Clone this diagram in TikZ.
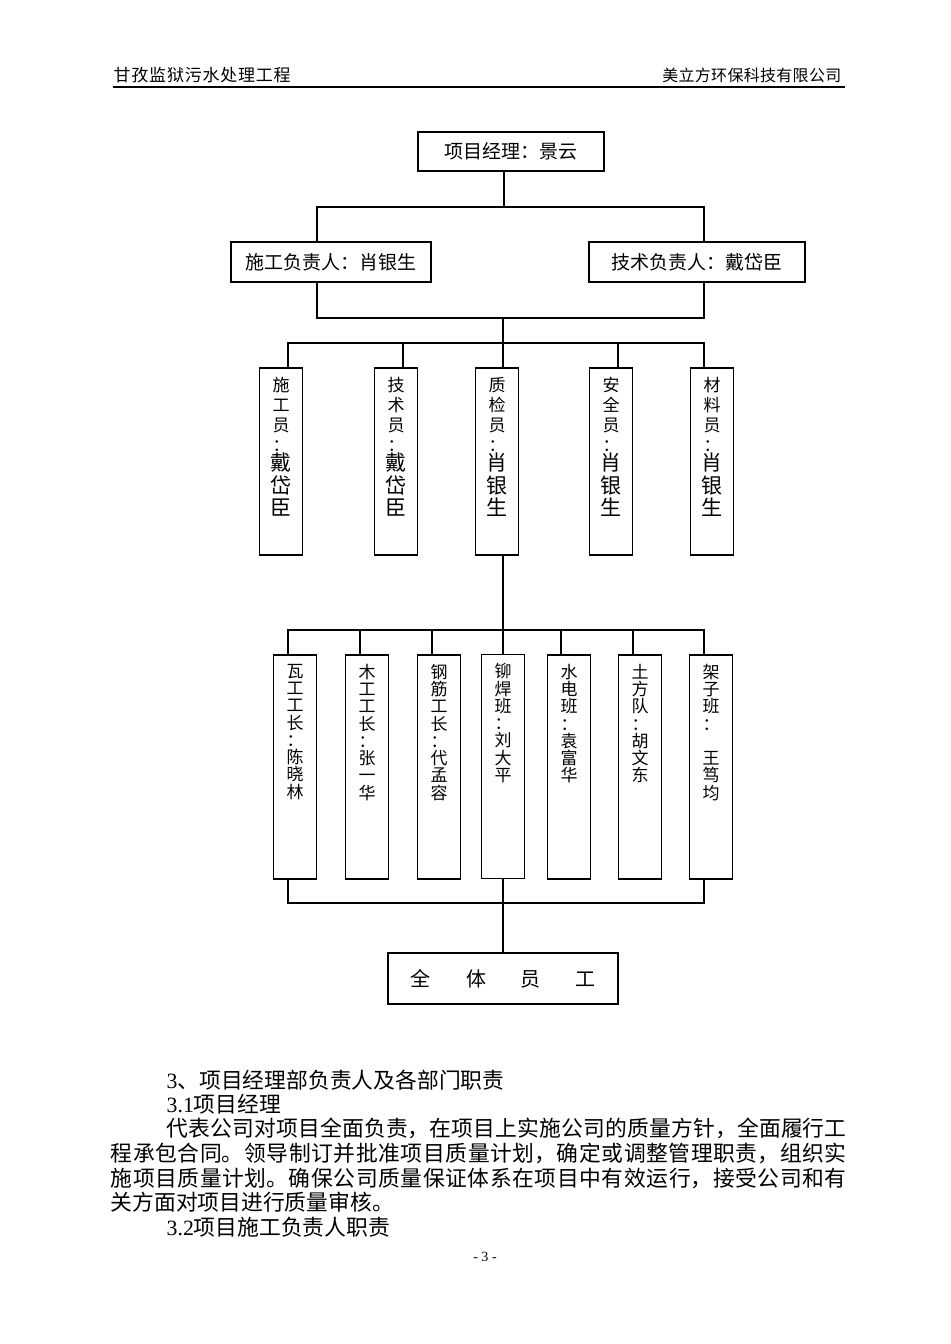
\documentclass[tikz,border=0pt]{standalone}
\usepackage{fontspec}
\setmainfont{Noto Sans CJK SC}
\newfontfamily\latinfont{Liberation Serif}
\usetikzlibrary{calc}
\newlength\px
\setlength\px{0.02cm}
\XeTeXlinebreaklocale "zh"
\XeTeXlinebreakskip=0pt plus 2pt
\hbadness=10000
\makeatletter
\newcommand\vchars[1]{\@tfor\vc:=#1\do{\vc\par}}
\makeatother
% one line set out to a given width
\newcommand\jline[2]{\parbox{#1}{\parfillskip=0pt\relax #2}}
% tall boxes, first row: title part small, name part larger
\newcommand\colA[2]{\parbox[c][187\px][t]{43\px}{\centering\vspace*{9\px}%
  \fontsize{9.67pt}{11.38pt}\selectfont\vchars{#1}\vspace{-3\px}%
  \fontsize{11.95pt}{12.8pt}\selectfont\vchars{#2}}}
% tall boxes, second row
\newcommand\colB[1]{\parbox[c][224\px][t]{43\px}{\centering\vspace*{9\px}%
  \fontsize{9.67pt}{9.84pt}\selectfont\vchars{#1}}}
\begin{document}
\begin{tikzpicture}[x=0.02cm,y=-0.02cm,line width=0.8pt,
    box/.style={draw,inner sep=0pt,minimum height=0.8cm,font=\fontsize{10.81pt}{12pt}\selectfont},
    colbox/.style={draw,inner sep=0pt},
    head/.style={inner sep=0pt,font=\fontsize{9.67pt}{11pt}\selectfont},
    body/.style={anchor=west,inner sep=0pt,font=\fontsize{12.4pt}{13.9pt}\selectfont}]
  \useasboundingbox (0,0) rectangle (950,1344);

  % page header
  \node[head,anchor=west] (hleft) at (113,75) {\jline{177\px}{甘孜监狱污水处理工程}};
  \node[head,anchor=east,font=\fontsize{9.1pt}{11pt}\selectfont] (hright) at (842,75) {\jline{179\px}{美立方环保科技有限公司}};
  \draw[line width=1pt] (113,87) -- (845,87);

  % chart
  \node[box,minimum width=3.72cm,minimum height=0.78cm] (pm) at (511,151.5) {项目经理：景云};
  \node[box,minimum width=4cm] (cl) at (331,262) {施工负责人：肖银生};
  \node[box,minimum width=4.32cm] (tl) at (697,262) {技术负责人：戴岱臣};

  \node[colbox] (a1) at (281,461.5) {\colA{施工员：}{戴岱臣}};
  \node[colbox] (a2) at (396,461.5) {\colA{技术员：}{戴岱臣}};
  \node[colbox] (a3) at (497,461.5) {\colA{质检员：}{肖银生}};
  \node[colbox] (a4) at (611,461.5) {\colA{安全员：}{肖银生}};
  \node[colbox] (a5) at (712,461.5) {\colA{材料员：}{肖银生}};

  \node[colbox] (b1) at (295,767) {\colB{瓦工工长：陈晓林}};
  \node[colbox] (b2) at (367,767) {\colB{木工工长：张一华}};
  \node[colbox] (b3) at (439,767) {\colB{钢筋工长：代孟容}};
  \node[colbox] (b4) at (503,766.5) {\colB{铆焊班：刘大平}};
  \node[colbox] (b5) at (569,767) {\colB{水电班：袁富华}};
  \node[colbox] (b6) at (640,767) {\colB{土方队：胡文东}};
  \node[colbox] (b7) at (711,767) {\colB{架子班：{~}王笃均}};

  \node[box,minimum width=4.6cm,minimum height=1.02cm,font=\fontsize{11.38pt}{13pt}\selectfont] (all) at (503,978.5)
    {全\hspace{36\px}体\hspace{34\px}员\hspace{36\px}工\hspace{18\px}};

  \coordinate (j1) at (504,207);
  \coordinate (j2) at (503,318);
  \coordinate (j3) at (503,343);
  \coordinate (j4) at (503,630);
  \coordinate (j5) at (503,903);

  \draw ($(pm.south)+(-7,0)$) -- (j1);
  \draw ($(cl.north)+(-14,0)$) |- (j1) -| ($(tl.north)+(7,0)$);
  \draw ($(cl.south)+(-14,0)$) |- (j2) -| ($(tl.south)+(7,0)$);
  \draw (j2) -- (j3);
  \foreach \n/\dx in {a1/7,a2/7,a3/6,a4/7,a5/-8}
    \draw (j3) -| ($(\n.north)+(\dx,0)$);
  \draw ($(a3.south)+(6,0)$) -- (j4);
  \foreach \n/\dx in {b1/-7,b2/-7,b3/-7,b4/0,b5/-8,b6/-7,b7/-7}
    \draw (j4) -| ($(\n.north)+(\dx,0)$);
  \draw ($(b1.south)+(-7,0)$) |- (j5) -| ($(b7.south)+(-7,0)$);
  \draw (b4.south) -- (all.north);

  % text below the chart
  \node[body] (t1) at (166,1080) {{\latinfont 3}、项目经理部负责人及各部门职责};
  \node[body] (t2) at (166,1104) {{\latinfont 3.1}项目经理};
  \node[body] (t3) at (166,1128) {\jline{680\px}{代表公司对项目全面负责，在项目上实施公司的质量方针，全面履行工}};
  \node[body] (t4) at (110,1153) {\jline{736\px}{程承包合同。领导制订并批准项目质量计划，确定或调整管理职责，组织实}};
  \node[body] (t5) at (110,1178) {\jline{736\px}{施项目质量计划。确保公司质量保证体系在项目中有效运行，接受公司和有}};
  \node[body] (t6) at (110,1202) {关方面对项目进行质量审核。};
  \node[body] (t7) at (166,1227) {{\latinfont 3.2}项目施工负责人职责};
  \node[inner sep=0pt,font=\latinfont\fontsize{8pt}{9pt}\selectfont] (pg) at (485,1257) {- 3 -};
\end{tikzpicture}
\end{document}
